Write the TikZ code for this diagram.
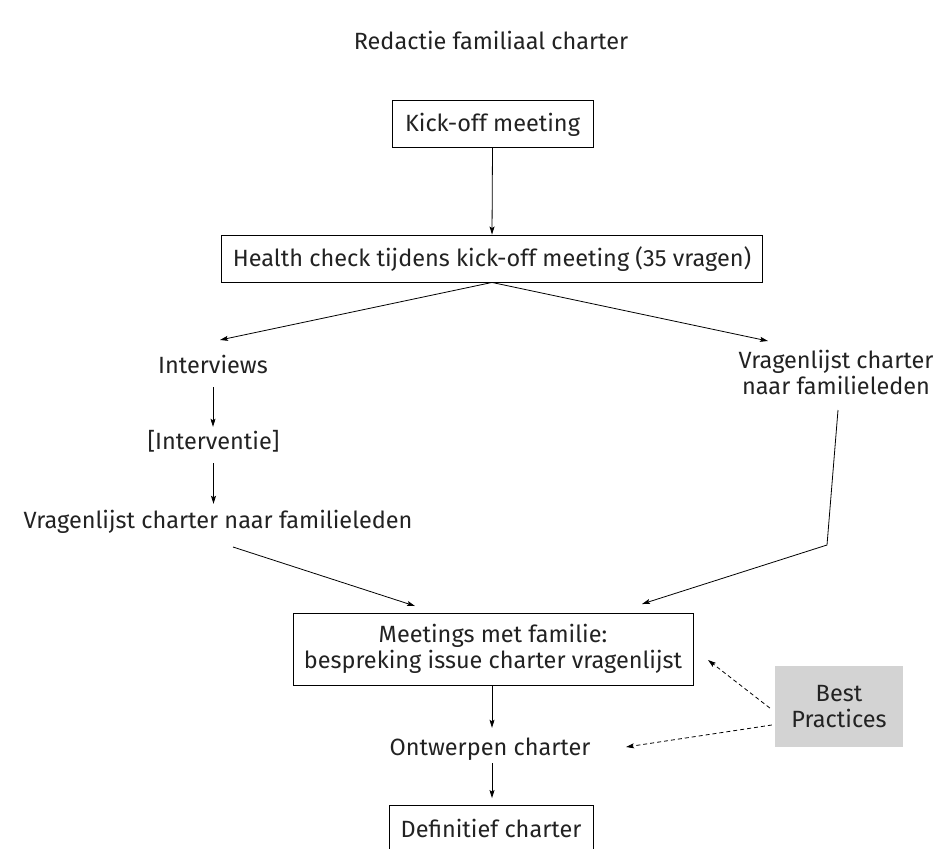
\documentclass[tikz,border=0pt]{standalone}
\usepackage{fontspec}
\setmainfont{Fira Sans}
\usetikzlibrary{arrows.meta,calc}
\definecolor{txt}{HTML}{222222}
\definecolor{bpgray}{HTML}{D3D3D3}
\begin{document}
\begin{tikzpicture}[x=1pt,y=-1pt,
  every node/.style={font=\fontsize{23.5}{26}\selectfont, text=txt},
  box/.style={draw, line width=0.9pt, inner sep=0pt, minimum height=47pt, text height=21pt, text depth=5pt},
  lbl/.style={inner sep=0pt, text height=17pt, text depth=5pt},
  multi/.style={inner sep=0pt, align=center},
  arr/.style={line width=0.8pt, -{Stealth[length=8pt,width=5pt,inset=1.5pt]}},
  darr/.style={arr, dash pattern=on 4pt off 3pt}]
\useasboundingbox (0,0) rectangle (952,848);
\node[lbl] (title) at (491,44) {Redactie familiaal charter};
\node[box, minimum width=201pt] (kick) at (492.5,123.5) {Kick-off meeting};
\node[box, minimum width=541pt] (health) at (492,258.5) {Health check tijdens kick-off meeting (35 vragen)};
\node[lbl] (interviews) at (213,367) {Interviews};
\node[lbl] (interventie) at (213.5,443) {[Interventie]};
\node[lbl] (vragenL) at (218,522) {Vragenlijst charter naar familieleden};
\node[multi] (vragenR) at (836,372) {Vragenlijst charter\\naar familieleden};
\node[draw, line width=0.9pt, multi, minimum width=400pt, minimum height=72pt] (meetings) at (493,649) {Meetings met familie:\\bespreking issue charter vragenlijst};
\node[lbl] (ontwerpen) at (490,749) {Ontwerpen charter};
\node[box, minimum width=204pt] (def) at (491,829) {Definitief charter};
\node[multi, fill=bpgray, minimum width=128pt, minimum height=81pt] (bp) at (839,706.5) {Best\\Practices};
% connector free ends
\coordinate (tipL) at (220,340);
\coordinate (tipR) at (768,341);
\coordinate (startL) at (233,547);
\coordinate (tipML) at (415,606);
\coordinate (startR) at (838,410);
\coordinate (bendR) at (827,545);
\coordinate (tipMR) at (642,604);
\coordinate (tipBA) at (708,660);
\coordinate (tipBB) at (626,747);
\draw[arr] (kick.south) -- (health.north);
\draw[arr] (health.south) -- (tipL);
\draw[arr] (health.south) -- (tipR);
\draw[arr, shorten <=9pt, shorten >=5pt] (interviews.south) -- (interviews.south |- interventie.north);
\draw[arr, shorten <=9pt, shorten >=7pt] (interventie.south) -- (interventie.south |- vragenL.north);
\draw[arr] (startL) -- (tipML);
\draw[arr] (startR) -- (bendR) -- (tipMR);
\draw[arr, shorten >=10pt] ([xshift=-1pt]meetings.south) -- ([xshift=-1pt]meetings.south |- ontwerpen.north);
\draw[arr, shorten <=3pt, shorten >=7pt] ([xshift=2pt]ontwerpen.south) -- ([xshift=2pt]ontwerpen.south |- def.north);
\draw[darr] ([shift={(-5pt,-1.5pt)}]bp.west) -- (tipBA);
\draw[darr] ([shift={(-3pt,-18.5pt)}]bp.west) -- (tipBB);
\end{tikzpicture}
\end{document}
